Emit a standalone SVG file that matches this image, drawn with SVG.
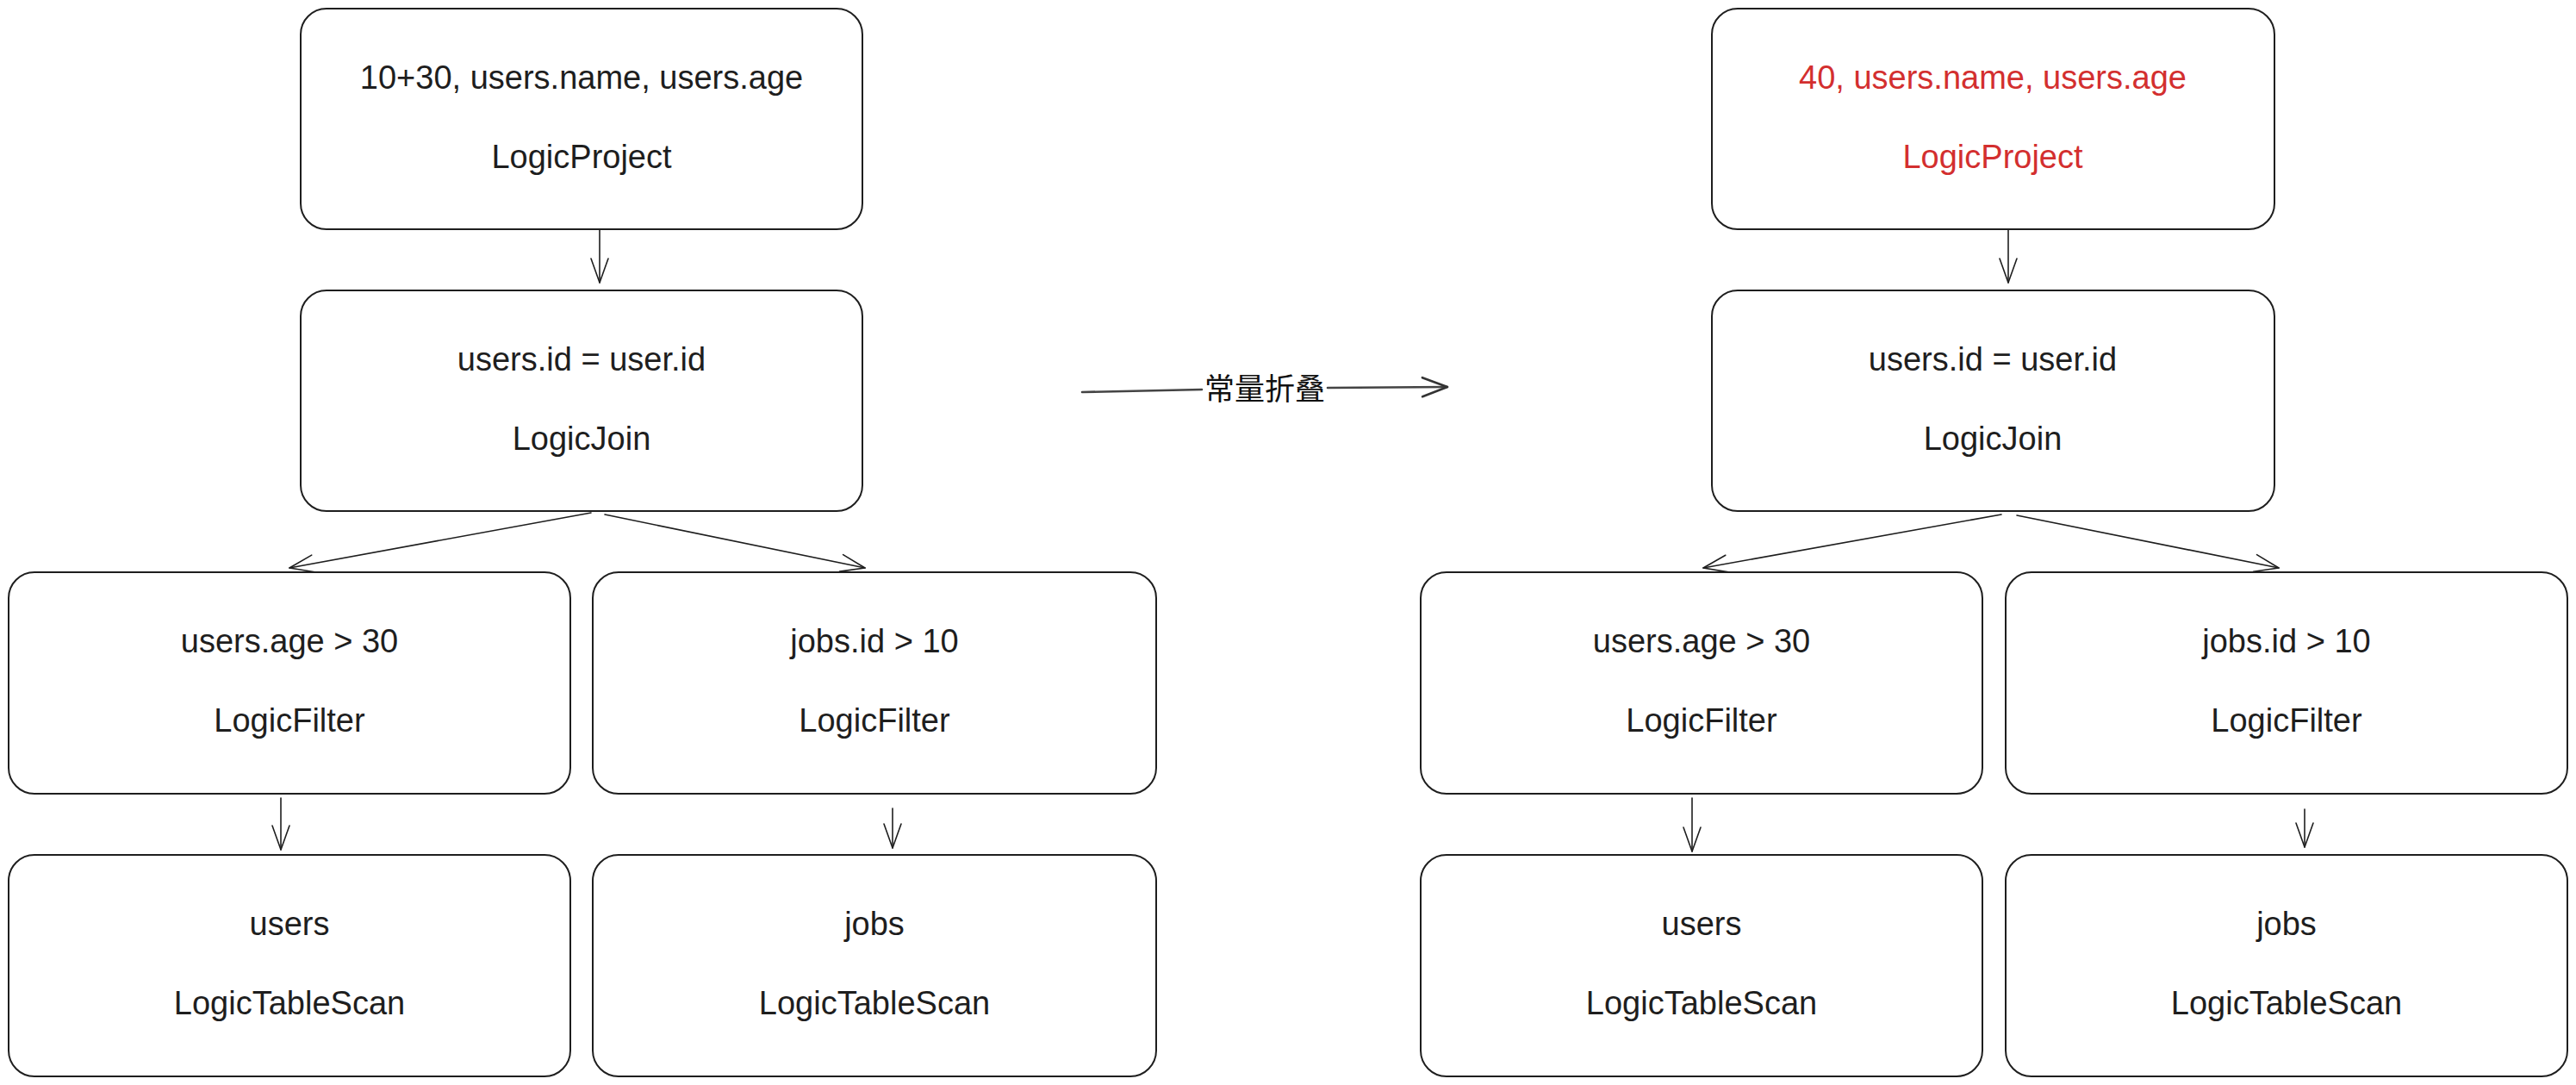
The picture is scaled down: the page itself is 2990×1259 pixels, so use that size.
<svg xmlns="http://www.w3.org/2000/svg" width="2990" height="1259" viewBox="0 0 2990 1259">
<defs>
<style>
.box{fill:#ffffff;stroke:#1e1e1e;stroke-width:2}
.t{font-family:"Liberation Sans","DejaVu Sans",sans-serif;font-size:38px;fill:#1e1e1e;text-anchor:middle}
.red{fill:#d32f2f}
.c{fill:none;stroke:#1e1e1e;stroke-width:1.6;stroke-linecap:round}
.cm{fill:none;stroke:#444444;stroke-width:2.6;stroke-linecap:round}
.lbl{font-family:"Noto Sans CJK SC","Noto Sans",sans-serif;font-size:35px;fill:#111111;text-anchor:middle;dominant-baseline:central}
</style>
<marker id="ah" markerUnits="userSpaceOnUse" viewBox="-32 -14 36 28" markerWidth="36" markerHeight="28" refX="0" refY="0" orient="auto" overflow="visible">
<path d="M-28 -10 L0 0 L-28 10" fill="none" stroke="#1e1e1e" stroke-width="1.6" stroke-linecap="round" stroke-linejoin="round"/>
</marker>
<marker id="ah2" markerUnits="userSpaceOnUse" viewBox="-34 -14 38 28" markerWidth="38" markerHeight="28" refX="0" refY="0" orient="auto" overflow="visible">
<path d="M-29 -11 L0 0 L-29 11" fill="none" stroke="#333333" stroke-width="2.6" stroke-linecap="round" stroke-linejoin="round"/>
</marker>
</defs>
<rect width="2990" height="1259" fill="#ffffff"/>

<g id="connectors">
<path class="c" d="M696 266 L696 328" marker-end="url(#ah)"/>
<path class="c" d="M686 595 L336 659" marker-end="url(#ah)"/>
<path class="c" d="M702 597 L1004 659" marker-end="url(#ah)"/>
<path class="c" d="M326 926 L326 986" marker-end="url(#ah)"/>
<path class="c" d="M1036 938 L1036 984" marker-end="url(#ah)"/>
<path class="c" d="M2331 266 L2331 328" marker-end="url(#ah)"/>
<path class="c" d="M2323 597 L1977 659" marker-end="url(#ah)"/>
<path class="c" d="M2341 598 L2645 659" marker-end="url(#ah)"/>
<path class="c" d="M1964 926 L1964 988" marker-end="url(#ah)"/>
<path class="c" d="M2675 939 L2675 983" marker-end="url(#ah)"/>
<path class="cm" d="M1256 455 L1395 452"/>
<path class="cm" d="M1541 450 L1680 449" marker-end="url(#ah2)"/>
<text class="lbl" x="1468" y="448">常量折叠</text>
</g>

<g id="project-left">
<rect class="box" x="349" y="10" width="652" height="256" rx="30"/>
<text class="t" x="675" y="103">10+30, users.name, users.age</text>
<text class="t" x="675" y="195">LogicProject</text>
</g>
<g id="join-left">
<rect class="box" x="349" y="337" width="652" height="256" rx="30"/>
<text class="t" x="675" y="430">users.id = user.id</text>
<text class="t" x="675" y="522">LogicJoin</text>
</g>
<g id="filter-users-left">
<rect class="box" x="10" y="664" width="652" height="257" rx="30"/>
<text class="t" x="336" y="757">users.age &gt; 30</text>
<text class="t" x="336" y="849">LogicFilter</text>
</g>
<g id="filter-jobs-left">
<rect class="box" x="688" y="664" width="654" height="257" rx="30"/>
<text class="t" x="1015" y="757">jobs.id &gt; 10</text>
<text class="t" x="1015" y="849">LogicFilter</text>
</g>
<g id="scan-users-left">
<rect class="box" x="10" y="992" width="652" height="257" rx="30"/>
<text class="t" x="336" y="1085">users</text>
<text class="t" x="336" y="1177">LogicTableScan</text>
</g>
<g id="scan-jobs-left">
<rect class="box" x="688" y="992" width="654" height="257" rx="30"/>
<text class="t" x="1015" y="1085">jobs</text>
<text class="t" x="1015" y="1177">LogicTableScan</text>
</g>

<g id="project-right">
<rect class="box" x="1987" y="10" width="653" height="256" rx="30"/>
<text class="t red" x="2313" y="103">40, users.name, users.age</text>
<text class="t red" x="2313" y="195">LogicProject</text>
</g>
<g id="join-right">
<rect class="box" x="1987" y="337" width="653" height="256" rx="30"/>
<text class="t" x="2313" y="430">users.id = user.id</text>
<text class="t" x="2313" y="522">LogicJoin</text>
</g>
<g id="filter-users-right">
<rect class="box" x="1649" y="664" width="652" height="257" rx="30"/>
<text class="t" x="1975" y="757">users.age &gt; 30</text>
<text class="t" x="1975" y="849">LogicFilter</text>
</g>
<g id="filter-jobs-right">
<rect class="box" x="2328" y="664" width="652" height="257" rx="30"/>
<text class="t" x="2654" y="757">jobs.id &gt; 10</text>
<text class="t" x="2654" y="849">LogicFilter</text>
</g>
<g id="scan-users-right">
<rect class="box" x="1649" y="992" width="652" height="257" rx="30"/>
<text class="t" x="1975" y="1085">users</text>
<text class="t" x="1975" y="1177">LogicTableScan</text>
</g>
<g id="scan-jobs-right">
<rect class="box" x="2328" y="992" width="652" height="257" rx="30"/>
<text class="t" x="2654" y="1085">jobs</text>
<text class="t" x="2654" y="1177">LogicTableScan</text>
</g>
</svg>
